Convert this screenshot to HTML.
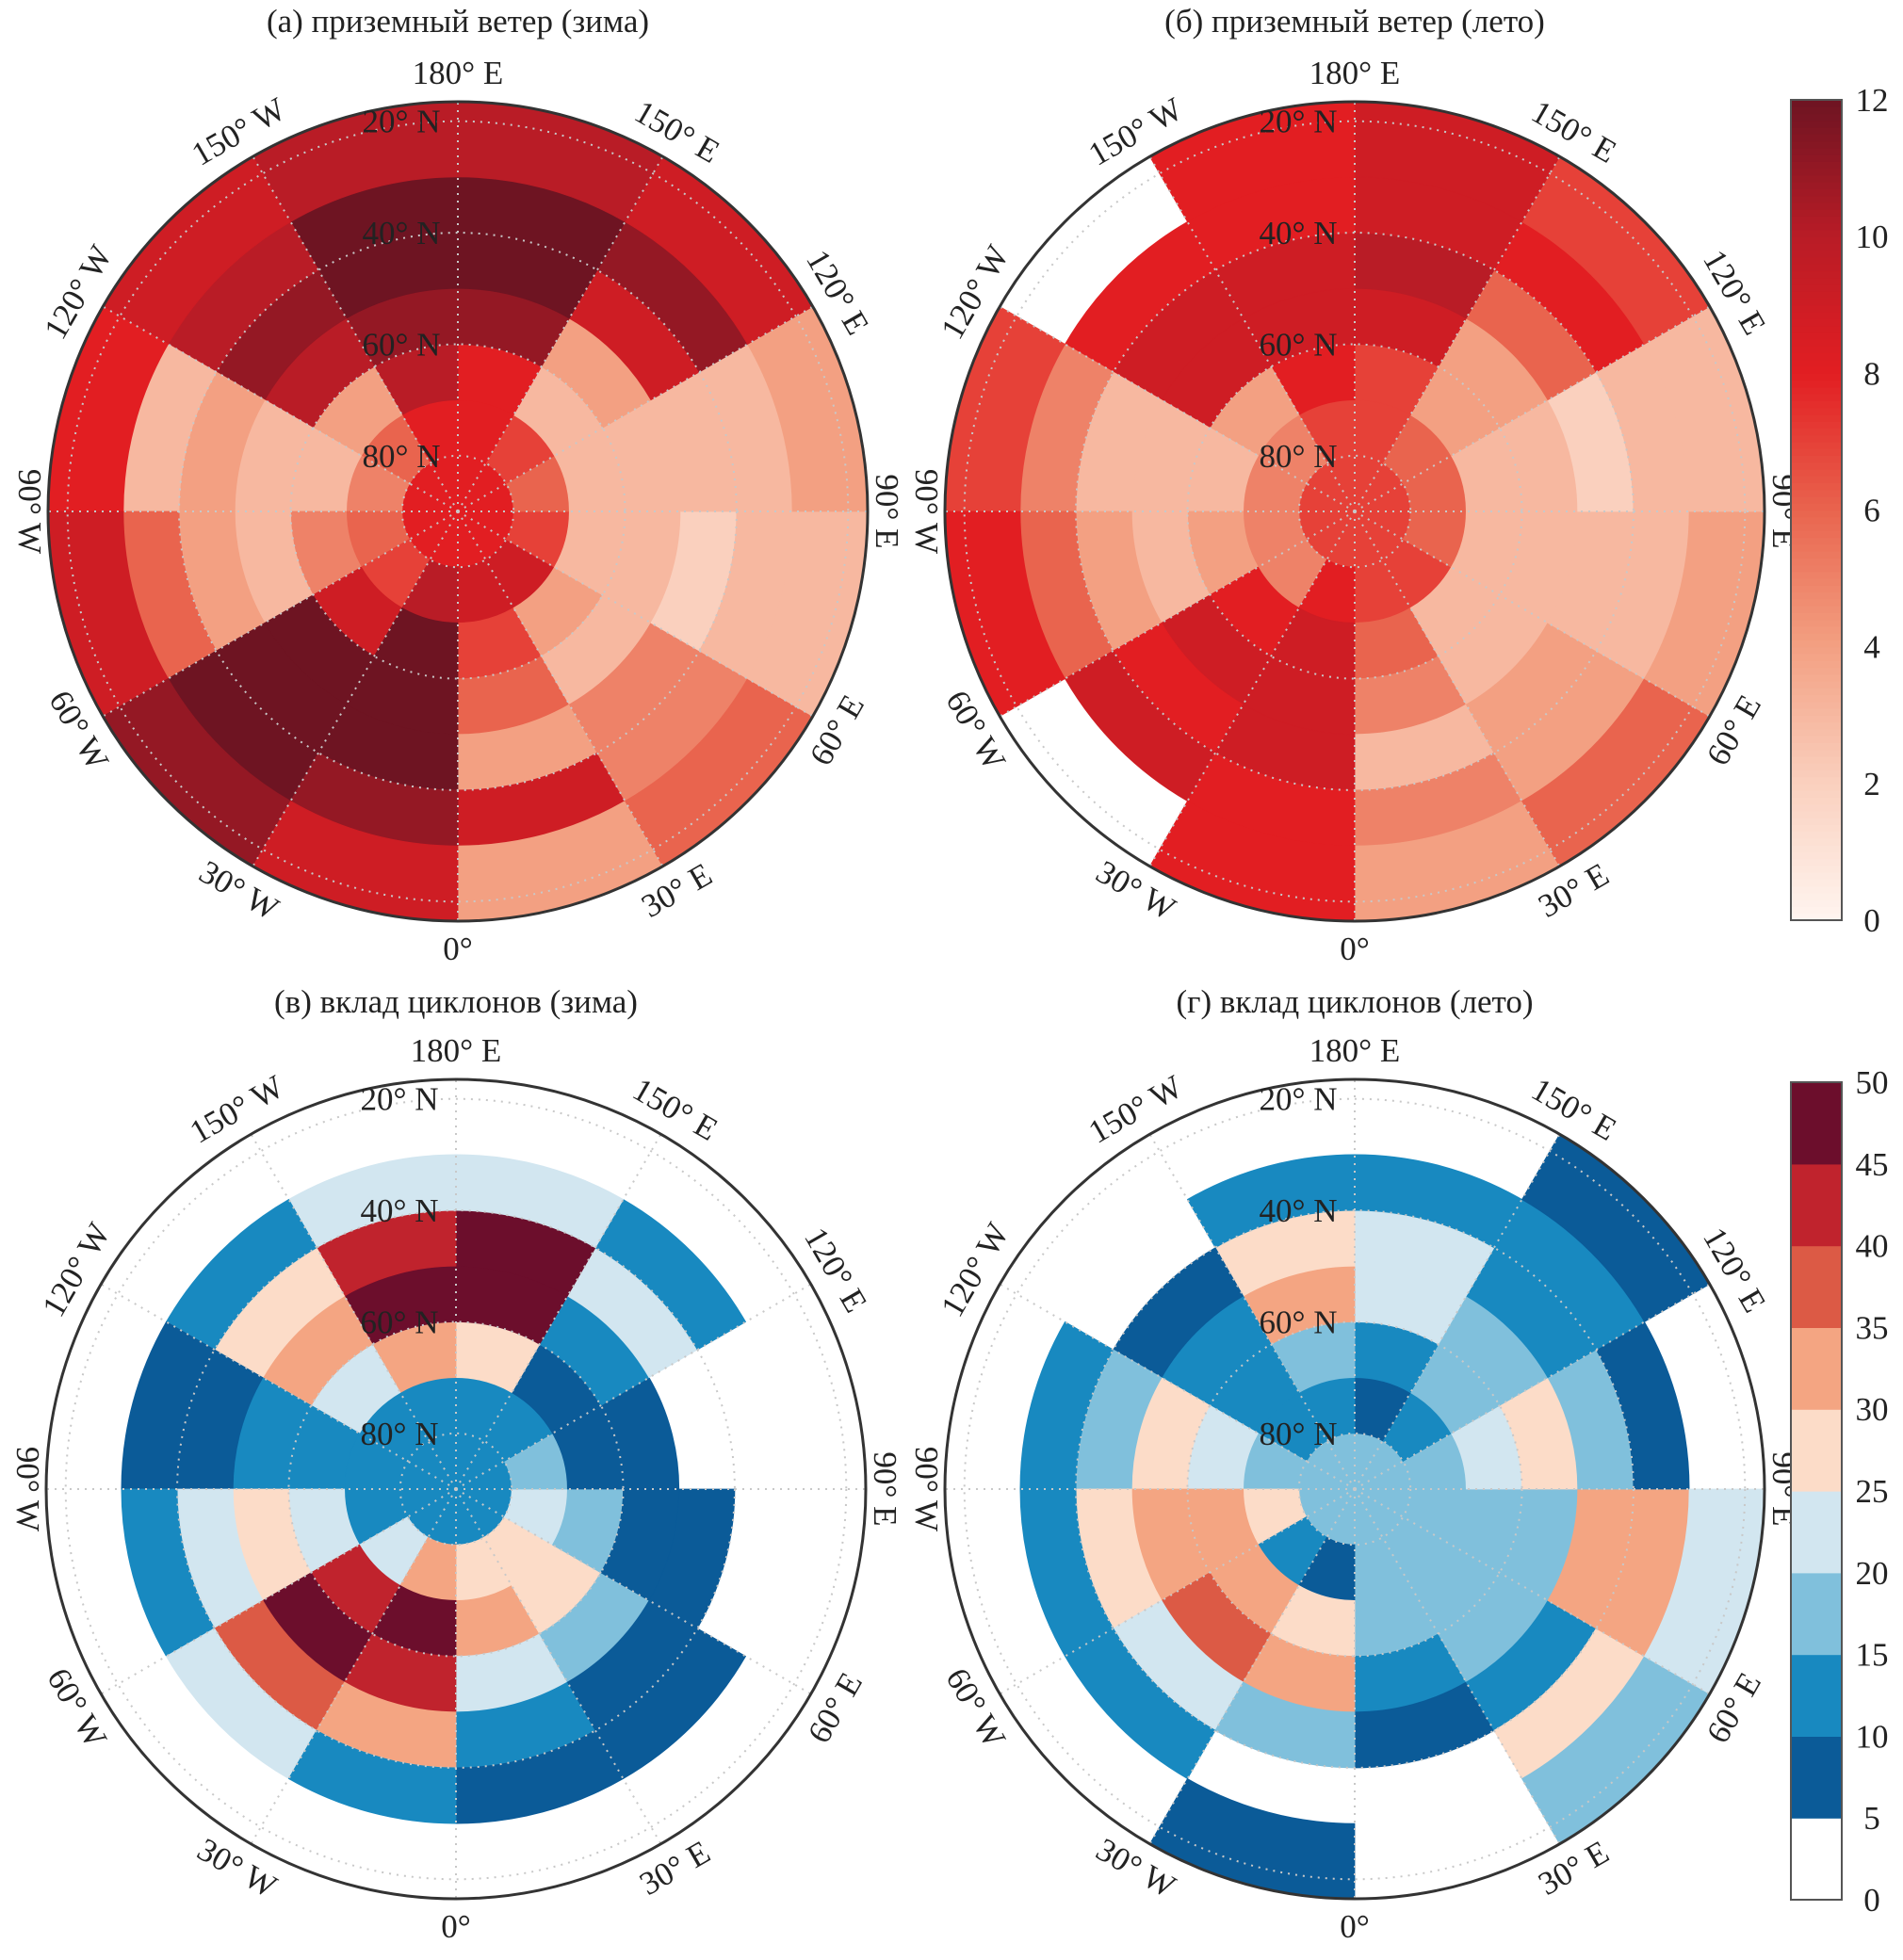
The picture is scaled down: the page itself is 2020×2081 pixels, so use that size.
<!DOCTYPE html>
<html><head><meta charset="utf-8">
<style>
html,body{margin:0;padding:0;background:#fff;}
svg{display:block;font-family:"Liberation Serif","DejaVu Serif",serif;}
</style></head>
<body>
<svg id="chart" width="2020" height="2081" viewBox="0 0 2020 2081" xmlns="http://www.w3.org/2000/svg"></svg>
<script>
// ---- data ----
const latEdges = [90, 80, 70, 60, 50, 40, 30, 16.5];
const lonSectorStarts = [0, 30, 60, 90, 120, 150, 180, 210, 240, 270, 300, 330]; // degrees east
const panelTitles = ["(а)  приземный ветер (зима)", "(б) приземный ветер (лето)", "(в) вклад циклонов (зима)", "(г) вклад циклонов (лето)"];
const windTicks = [0, 2, 4, 6, 8, 10, 12];
const cycTicks = [0, 5, 10, 15, 20, 25, 30, 35, 40, 45, 50];
const latLabels = [20, 40, 60, 80];
const lonLabels = [0, 30, 60, 90, 120, 150, 180, -150, -120, -90, -60, -30];
// rows = lat bands (80-90 ... 16.5-30), cols = lon sectors 0E..330E; -1 = no data
const windWinter = [
 [8,8,8,8,8,8,8,8,8,8,8,8],
 [9,9,7,6,7,8,8,6,5,6,7,10],
 [7,4,3,3,3,8,10,4,3,5,9,12],
 [6,3,3,3,4,11,11,10,3,3,12,12],
 [4,5,2,3,9,12,12,11,4,4,12,12],
 [9,5,3,3,11,12,12,10,3,6,12,11],
 [4,6,3,4,9,10,10,9,8,9,11,9]
];
const windSummer = [
 [7,7,7,7,7,7,7,7,7,7,7,7],
 [7,7,6,6,6,7,7,5,5,5,5,8],
 [6,3,3,3,4,7,8,4,3,4,8,9],
 [5,3,3,3,4,9,9,9,3,3,9,9],
 [3,4,3,2,6,10,9,9,3,4,8,9],
 [5,4,3,3,8,9,8,8,5,6,9,8],
 [4,6,4,3,7,9,8,-1,7,8,-1,8]
];
const cycWinter = [
 [12,12,12,12,12,12,12,12,12,12,12,12],
 [28,27,22,15,10,13,14,12,10,14,22,30],
 [33,26,17,8,6,25,30,20,12,22,40,45],
 [22,15,8,6,12,47,47,30,10,25,46,42],
 [14,8,6,0,20,45,44,25,8,22,38,30],
 [9,6,0,0,10,22,22,10,7,12,20,14],
 [0,0,0,0,0,0,0,0,0,0,0,0]
];
const cycSummer = [
 [18,18,18,18,18,18,18,18,18,18,18,18],
 [16,18,17,17,12,8,12,13,18,26,14,8],
 [15,18,17,22,17,12,18,10,22,33,33,25],
 [12,15,17,26,18,23,32,12,28,34,38,30],
 [8,12,33,18,12,22,25,8,18,25,24,17],
 [0,25,33,8,12,10,12,0,10,12,10,0],
 [0,15,20,0,8,0,0,0,0,0,0,7]
];
// ---- geometry ----
const NS = "http://www.w3.org/2000/svg";
const svg = document.getElementById("chart");
const R = 435;
const K = R / (90 - 16.5);
const panels = [
 {cx:486, cy:543, data:windWinter, kind:"wind", title:panelTitles[0]},
 {cx:1438, cy:543, data:windSummer, kind:"wind", title:panelTitles[1]},
 {cx:484, cy:1581, data:cycWinter, kind:"cyc", title:panelTitles[2]},
 {cx:1438, cy:1581, data:cycSummer, kind:"cyc", title:panelTitles[3]}
];
function rOf(lat){ return (90 - lat) * K; }
function pt(p, lat, lon){ const r = rOf(lat), a = lon*Math.PI/180; return [p.cx + r*Math.sin(a), p.cy + r*Math.cos(a)]; }
function mix(a,b,t){ return a.map((v,i)=>Math.round(v+(b[i]-v)*t)); }
const windStops = [[0,[255,245,240]],[2,[250,208,190]],[4,[243,160,130]],[6,[233,100,78]],[8,[226,30,34]],[10,[185,28,38]],[12,[110,20,34]]];
function windColor(v){
 for(let i=0;i<windStops.length-1;i++){ const [a,ca]=windStops[i],[b,cb]=windStops[i+1];
  if(v<=b){ const c=mix(ca,cb,Math.max(0,(v-a)/(b-a))); return `rgb(${c})`; } }
 return "rgb(110,20,34)";
}
const cycColors = ["#ffffff","#0b5b98","#1889c0","#80c0dc","#d2e6f0","#fcdcc8","#f4a582","#dc5a45","#c0232d","#6c0e2c"];
function cycColor(v){ return cycColors[Math.min(9, Math.max(0, Math.floor(v/5)))]; }
function el(tag, attrs, parent){ const e=document.createElementNS(NS,tag); for(const k in attrs) e.setAttribute(k,attrs[k]); (parent||svg).appendChild(e); return e; }

panels.forEach((p, pi) => {
 const g = el("g", {});
 
 
 p.data.forEach((row, bi) => {
  row.forEach((v, si) => {
   if (v < 0 || (p.kind === "cyc" && v < 5)) return;
   const lat1 = latEdges[bi], lat2 = latEdges[bi+1];
   const l1 = lonSectorStarts[si], l2 = l1 + 30;
   const r1 = rOf(lat1), r2 = rOf(lat2);
   const a = pt(p, lat2, l1), b = pt(p, lat2, l2), c = pt(p, lat1, l2), d = pt(p, lat1, l1);
   let dstr = `M${a[0]},${a[1]} A${r2},${r2} 0 0 0 ${b[0]},${b[1]} L${c[0]},${c[1]}`;
   dstr += r1 > 0 ? ` A${r1},${r1} 0 0 1 ${d[0]},${d[1]} Z` : " Z";
   const col = p.kind === "wind" ? windColor(v) : cycColor(v);
   const cell = el("path", {d:dstr, fill:col, stroke:col, "stroke-width":"0.8"}, g);
   
   
  });
 });
 latLabels.forEach(lat => {
  const c = el("circle", {cx:p.cx, cy:p.cy, r:rOf(lat), fill:"none", stroke:"#c8c8c8", "stroke-width":"2", "stroke-dasharray":"2 6"}, g);
  
  
 });
 lonLabels.forEach(lon => {
  const e = pt(p, 16.5, lon);
  const l = el("line", {x1:p.cx, y1:p.cy, x2:e[0], y2:e[1], stroke:"#c8c8c8", "stroke-width":"2", "stroke-dasharray":"2 6"}, g);
  
  
 });
 const bd = el("circle", {cx:p.cx, cy:p.cy, r:R, fill:"none", stroke:"#333", "stroke-width":"3"}, g);
 
 
 latLabels.forEach(lat => {
  const t = el("text", {x:p.cx-60, y:p.cy-rOf(lat)+12, "font-size":"35", "text-anchor":"middle", fill:"#222"}, g);
  t.textContent = lat + "° N";
  
  
 });
 lonLabels.forEach(lon => {
  const side = (lon === 90 || lon === -90);
  const rr = side ? R + 20 : R + 30, a = lon*Math.PI/180;
  const x = p.cx + rr*Math.sin(a), y = p.cy + rr*Math.cos(a);
  let rot;
  if (lon === 0 || lon === 180) rot = 0;
  else if (side) rot = 90;
  else if (lon > 90) rot = 180 - lon;
  else if (lon > 0) rot = -lon;
  else if (lon < -90) rot = -(180 + lon);
  else rot = -lon;
  const txt = lon === 0 ? "0°" : lon === 180 ? "180° E" : Math.abs(lon) + "° " + (lon > 0 ? "E" : "W");
  const t = el("text", {x:x, y:y+11, "font-size":"35", "text-anchor":"middle", fill:"#222", transform:`rotate(${rot} ${x} ${y})`}, g);
  t.textContent = txt;
  
  
 });
 const tt = el("text", {x:p.cx, y:(pi<2?34:1075), "font-size":"35", "text-anchor":"middle", fill:"#222"}, g);
 tt.textContent = p.title;
 
 
});

function colorbar(y0, y1, ticks, colorFn, discrete, name){
 const g = el("g", {});
 
 
 const x0 = 1901, w = 54, max = ticks[ticks.length-1];
 const steps = discrete ? ticks.length-1 : 120;
 for (let i=0;i<steps;i++){
  const v0 = max*i/steps, v1 = max*(i+1)/steps;
  const ya = y1 - (y1-y0)*v1/max, yb = y1 - (y1-y0)*v0/max;
  const r = el("rect", {x:x0, y:ya, width:w, height:yb-ya+0.6, fill:colorFn((v0+v1)/2)}, g);
  
  
 }
 const fr = el("rect", {x:x0, y:y0, width:w, height:y1-y0, fill:"none", stroke:"#555", "stroke-width":"2"}, g);
 
 
 ticks.forEach(v => {
  const y = y1 - (y1-y0)*v/max;
  const t = el("text", {x:1987, y:y+12, "font-size":"35", "text-anchor":"middle", fill:"#222"}, g);
  t.textContent = v;
  
  
 });
}
colorbar(106, 977, windTicks, windColor, false, "wind-colorbar");
colorbar(1149, 2017, cycTicks, cycColor, true, "cyclone-colorbar");
</script>
</body></html>
